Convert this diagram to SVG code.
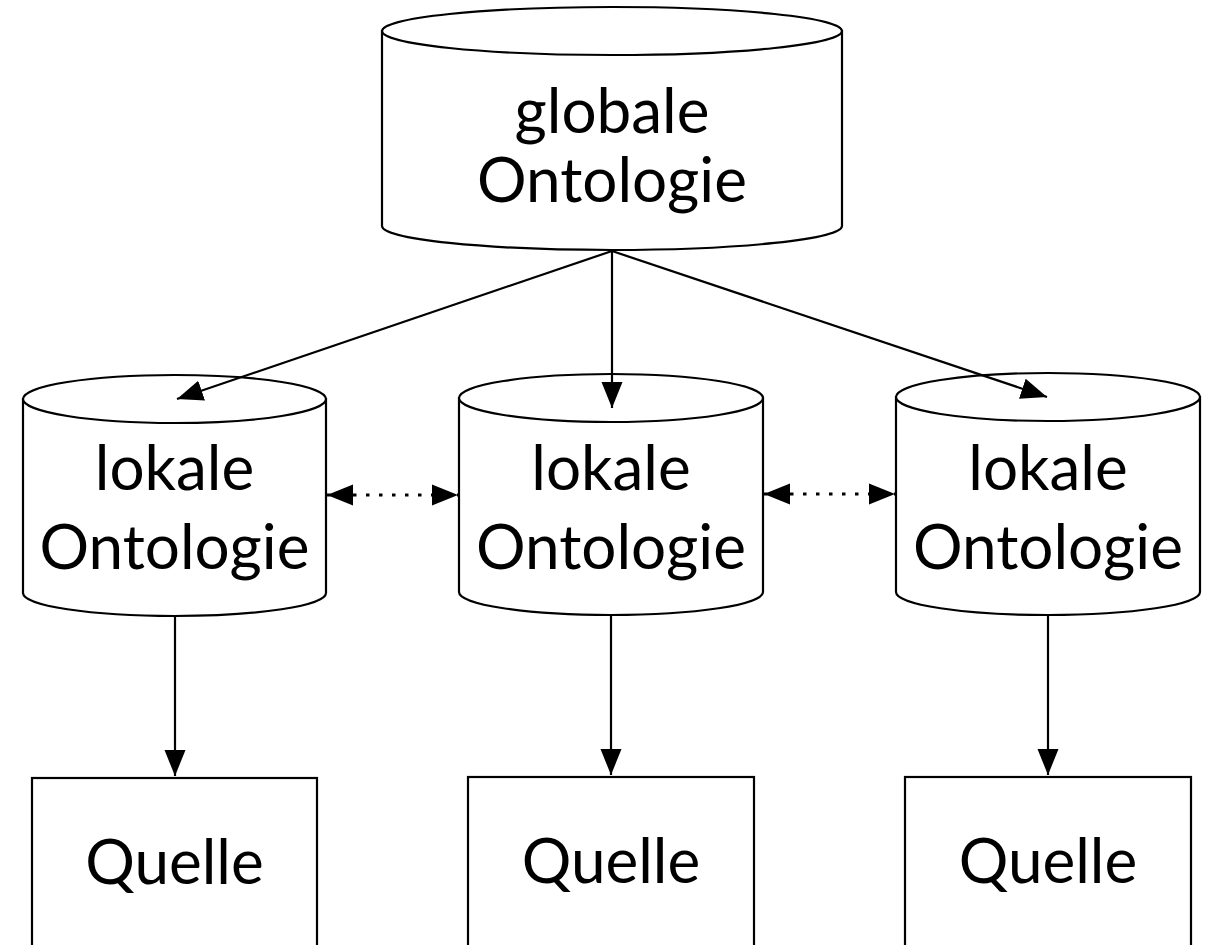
<svg xmlns="http://www.w3.org/2000/svg" width="1211" height="945" viewBox="0 0 1211 945">
  <style>
    .shape { fill: #fff; stroke: #000; stroke-width: 2.2; }
    .lbl { font-family: Lato, "Noto Sans", "Liberation Sans", sans-serif; font-size: 62px; fill: #000; text-anchor: middle; }
    .edge { fill: none; stroke: #000; stroke-width: 2.2; }
    .dotted { fill: none; stroke: #000; stroke-width: 3; stroke-dasharray: 3.5 9.5; }
  </style>
  <defs>
    <marker id="head" markerUnits="userSpaceOnUse" markerWidth="27" markerHeight="23" viewBox="0 0 27 23" refX="26" refY="11.5" orient="auto-start-reverse">
      <path d="M0,1 L26,11.5 L0,22 z" fill="#000"/>
    </marker>
  </defs>

  <rect width="1211" height="945" fill="#fff"/>

  <!-- global ontology cylinder -->
  <g id="global">
    <path class="shape" d="M382,31 L382,226 A230,24 0 0 0 842,226 L842,31 Z"/>
    <ellipse class="shape" cx="612" cy="31" rx="230" ry="24"/>
    <text class="lbl" x="612" y="133">globale</text>
    <text class="lbl" x="612" y="202">Ontologie</text>
  </g>

  <!-- local ontology cylinders -->
  <g id="local1">
    <path class="shape" d="M23,399 L23,593 A151.5,23 0 0 0 326,593 L326,399 Z"/>
    <ellipse class="shape" cx="174.5" cy="399" rx="151.5" ry="24"/>
    <text class="lbl" x="174.5" y="490">lokale</text>
    <text class="lbl" x="174.5" y="569">Ontologie</text>
  </g>
  <g id="local2">
    <path class="shape" d="M459,398 L459,592 A152,23 0 0 0 763,592 L763,398 Z"/>
    <ellipse class="shape" cx="611" cy="398" rx="152" ry="24"/>
    <text class="lbl" x="611" y="490">lokale</text>
    <text class="lbl" x="611" y="569">Ontologie</text>
  </g>
  <g id="local3">
    <path class="shape" d="M896,397 L896,592 A152,23 0 0 0 1200,592 L1200,397 Z"/>
    <ellipse class="shape" cx="1048" cy="397" rx="152" ry="24"/>
    <text class="lbl" x="1048" y="490">lokale</text>
    <text class="lbl" x="1048" y="569">Ontologie</text>
  </g>

  <!-- source boxes -->
  <g id="source1">
    <rect class="shape" x="32" y="778" width="285" height="200"/>
    <text class="lbl" x="174.5" y="884">Quelle</text>
  </g>
  <g id="source2">
    <rect class="shape" x="468" y="777" width="286" height="200"/>
    <text class="lbl" x="611" y="883">Quelle</text>
  </g>
  <g id="source3">
    <rect class="shape" x="905" y="777" width="286" height="200"/>
    <text class="lbl" x="1048" y="883">Quelle</text>
  </g>

  <!-- connectors -->
  <g id="connectors">
    <line class="edge" x1="612" y1="251" x2="177" y2="399" marker-end="url(#head)"/>
    <line class="edge" x1="612" y1="251" x2="612" y2="408" marker-end="url(#head)"/>
    <line class="edge" x1="612" y1="251" x2="1047" y2="397" marker-end="url(#head)"/>

    <line class="dotted" x1="327" y1="495" x2="458" y2="495" marker-start="url(#head)" marker-end="url(#head)"/>
    <line class="dotted" x1="764" y1="494" x2="895" y2="494" marker-start="url(#head)" marker-end="url(#head)"/>

    <line class="edge" x1="175" y1="616" x2="175" y2="776" marker-end="url(#head)"/>
    <line class="edge" x1="611" y1="615" x2="611" y2="775" marker-end="url(#head)"/>
    <line class="edge" x1="1048" y1="615" x2="1048" y2="775" marker-end="url(#head)"/>
  </g>
</svg>
